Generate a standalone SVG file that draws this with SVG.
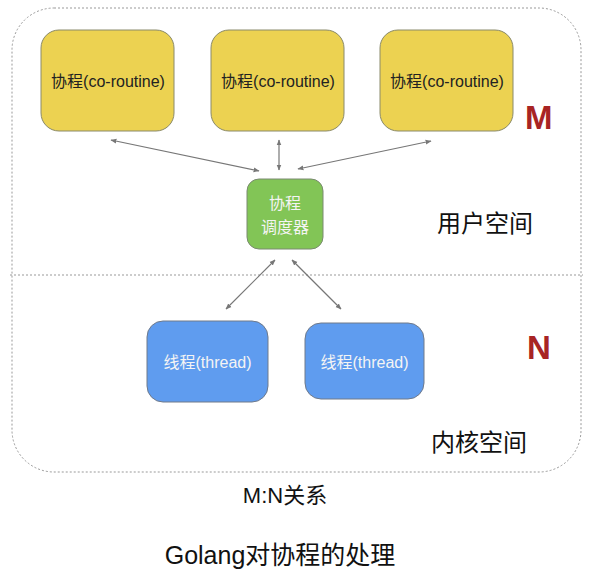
<svg xmlns="http://www.w3.org/2000/svg" width="592" height="576" viewBox="0 0 592 576">
<defs>
<marker id="ah" viewBox="0 0 10 10" refX="9" refY="5" markerWidth="6" markerHeight="6" orient="auto-start-reverse" markerUnits="userSpaceOnUse">
<path d="M0,1 L10,5 L0,9 Z" fill="#777"/>
</marker>
<style>
text{font-family:"Liberation Sans","Noto Sans CJK SC",sans-serif}
.y{fill:#ecd251;stroke:#8a8a6a;stroke-width:1}
.g{fill:#82c556;stroke:#7a8a70;stroke-width:1}
.b{fill:#5f9cef;stroke:#707a8a;stroke-width:1}
.nt{font-size:16px;text-anchor:middle}
.w{fill:#f4f4f4}
.k{fill:#222}
.big{font-size:24px;fill:#111}
.red{font-size:33px;font-weight:bold;fill:#a82424}
.c{stroke:#777;stroke-width:1.2;fill:none;marker-start:url(#ah);marker-end:url(#ah)}
</style>
</defs>
<rect x="12" y="8" width="569" height="464" rx="42" fill="none" stroke="#999" stroke-width="1" stroke-dasharray="2,2"/>
<line x1="10" y1="275" x2="583" y2="275" stroke="#999" stroke-width="1" stroke-dasharray="2,2"/>
<g id="co1"><rect class="y" x="41" y="30" width="133" height="101" rx="18"/><text class="nt k" x="108" y="87">协程(co-routine)</text></g>
<g id="co2"><rect class="y" x="211" y="30" width="133" height="101" rx="18"/><text class="nt k" x="278" y="87">协程(co-routine)</text></g>
<g id="co3"><rect class="y" x="380" y="30" width="133" height="101" rx="18"/><text class="nt k" x="447" y="87">协程(co-routine)</text></g>
<g id="sched"><rect class="g" x="247" y="179" width="76" height="70" rx="12"/><text class="nt w" x="285" y="209">协程</text><text class="nt w" x="285" y="233">调度器</text></g>
<g id="t1"><rect class="b" x="147" y="321" width="121" height="81" rx="16"/><text class="nt w" x="207.500" y="368">线程(thread)</text></g>
<g id="t2"><rect class="b" x="305" y="323" width="119" height="76" rx="16"/><text class="nt w" x="364.500" y="368">线程(thread)</text></g>
<g id="connectors">
<line class="c" x1="111" y1="140" x2="259" y2="171"/>
<line class="c" x1="279" y1="140" x2="279" y2="170"/>
<line class="c" x1="298" y1="169" x2="431" y2="141"/>
<line class="c" x1="275" y1="260" x2="226" y2="309"/>
<line class="c" x1="292" y1="260" x2="341" y2="309"/>
</g>
<text class="red" x="525" y="129">M</text>
<text class="red" x="527" y="359">N</text>
<text class="big" x="437" y="232">用户空间</text>
<text class="big" x="431" y="451">内核空间</text>
<text x="285" y="503" font-size="22" text-anchor="middle" fill="#111">M:N关系</text>
<text x="280" y="564" font-size="25" text-anchor="middle" fill="#111">Golang对协程的处理</text>
</svg>
